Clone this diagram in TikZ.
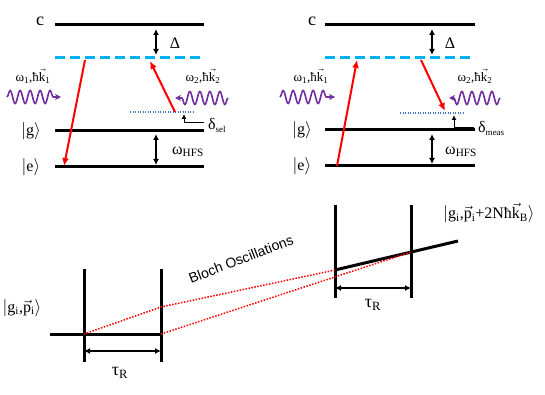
\documentclass[tikz,border=0pt]{standalone}
\usepackage{fontspec}
\setmainfont{Liberation Serif}
\newfontfamily\arialfont{Liberation Sans}
\usetikzlibrary{arrows.meta,decorations.pathmorphing}
\definecolor{myred}{RGB}{255,0,0}
\definecolor{mycyan}{RGB}{0,176,240}
\definecolor{mypurple}{RGB}{112,48,160}
\definecolor{myblue}{RGB}{68,114,196}
\newcommand\vk[1]{$\vec{\hbox{#1}}$}
\newcommand\myket[1]{$\Bigl|\hbox{#1}\Bigr\rangle$}
\newcommand\mysub[1]{{\fontsize{9}{10}\selectfont\raisebox{-3pt}{#1}}}
\tikzset{
  level/.style={line width=3pt},
  dlevel/.style={mycyan, line width=3pt, dash pattern=on 10pt off 5pt},
  dotlevel/.style={myblue, line width=1.2pt, dash pattern=on 1pt off 1.5pt},
  dbl/.style={{Latex[length=6pt,width=6pt]}-{Latex[length=6pt,width=6pt]}, line width=1.8pt},
  redarr/.style={myred, line width=2pt, -{Latex[length=8pt,width=7pt]}},
  smallarr/.style={line width=1pt, -{Latex[length=5pt,width=5pt]}},
  wave/.style={mypurple, line width=1.6pt, decorate,
    decoration={snake, amplitude=6.5pt, segment length=10pt, post length=4pt},
    -{Stealth[length=6pt,width=6pt]}},
  reddot/.style={myred, line width=1.5pt, dash pattern=on 1.5pt off 1.5pt},
  every node/.style={inner sep=1pt, font=\fontsize{16}{18}\selectfont},
  wlab/.style={font=\fontsize{13}{15}\selectfont},
}
\begin{document}
\begin{tikzpicture}[x=1pt,y=-1pt]
\useasboundingbox (0,0) rectangle (545,395);

% ---------- left panel ----------
\coordinate (Lc0) at (55,25); \coordinate (Lc1) at (204,25);
\coordinate (Lv0) at (55,58); \coordinate (Lv1) at (204,58);
\coordinate (Lg0) at (55,131); \coordinate (Lg1) at (204,131);
\coordinate (Le0) at (55,167); \coordinate (Le1) at (204,167);
\coordinate (Ld0) at (130,112); \coordinate (Ld1) at (195,112);
\draw[level] (Lc0) -- (Lc1);
\draw[dlevel] (Lv0) -- (Lv1);
\draw[level] (Lg0) -- (Lg1);
\draw[level] (Le0) -- (Le1);
\draw[dotlevel] (Ld0) -- (Ld1);
\node[font=\fontsize{18}{20}\selectfont] (Lclab) at (40,21) {c};
\node (Lglab) at (31,131) {\myket{g}};
\node (Lelab) at (31,167) {\myket{e}};
\coordinate (LDa) at (156,29); \coordinate (LDb) at (156,55);
\draw[dbl] (LDa) -- (LDb);
\node (LDlab) at (175,43) {Δ};
\coordinate (LHa) at (156,134); \coordinate (LHb) at (156,165);
\draw[dbl] (LHa) -- (LHb);
\node (LHlab) at (188,152) {ω\textsubscript{HFS}};
\coordinate (LR1a) at (85,60); \coordinate (LR1b) at (64,166);
\draw[redarr] (LR1a) -- (LR1b);
\coordinate (LR2a) at (175,112); \coordinate (LR2b) at (150,61);
\draw[redarr] (LR2a) -- (LR2b);
\coordinate (LSa) at (204,123); \coordinate (LSc) at (184,123); \coordinate (LSb) at (184,114);
\draw[smallarr] (LSa) -- (LSc) -- (LSb);
\node[anchor=west] (LSlab) at (207,125) {δ\mysub{sel}};
\coordinate (LW1a) at (7,97); \coordinate (LW1b) at (61,97);
\draw[wave] (LW1a) -- (LW1b);
\coordinate (LW2a) at (228,98); \coordinate (LW2b) at (175,98);
\draw[wave] (LW2a) -- (LW2b);
\node[wlab] (LW1lab) at (33,76) {ω\textsubscript{1},ħ\vk{k}\textsubscript{1}};
\node[wlab] (LW2lab) at (203,76) {ω\textsubscript{2},ħ\vk{k}\textsubscript{2}};

% ---------- right panel ----------
\coordinate (Rc0) at (325,25); \coordinate (Rc1) at (475,25);
\coordinate (Rv0) at (325,58); \coordinate (Rv1) at (475,58);
\coordinate (Rg0) at (325,130); \coordinate (Rg1) at (475,130);
\coordinate (Re0) at (325,166); \coordinate (Re1) at (475,166);
\coordinate (Rd0) at (400,113); \coordinate (Rd1) at (465,113);
\draw[level] (Rc0) -- (Rc1);
\draw[dlevel] (Rv0) -- (Rv1);
\draw[level] (Rg0) -- (Rg1);
\draw[level] (Re0) -- (Re1);
\draw[dotlevel] (Rd0) -- (Rd1);
\node[font=\fontsize{18}{20}\selectfont] (Rclab) at (312,21) {c};
\node (Rglab) at (302,130) {\myket{g}};
\node (Relab) at (302,166) {\myket{e}};
\coordinate (RDa) at (432,29); \coordinate (RDb) at (432,55);
\draw[dbl] (RDa) -- (RDb);
\node (RDlab) at (450,43) {Δ};
\coordinate (RHa) at (432,134); \coordinate (RHb) at (432,164);
\draw[dbl] (RHa) -- (RHb);
\node (RHlab) at (461,152) {ω\textsubscript{HFS}};
\coordinate (RR1a) at (337,166); \coordinate (RR1b) at (357,60);
\draw[redarr] (RR1a) -- (RR1b);
\coordinate (RR2a) at (421,60); \coordinate (RR2b) at (445,111);
\draw[redarr] (RR2a) -- (RR2b);
\coordinate (RSa) at (474,128); \coordinate (RSc) at (454,128); \coordinate (RSb) at (454,115);
\draw[smallarr] (RSa) -- (RSc) -- (RSb);
\node[anchor=west] (RSlab) at (477,128) {δ\mysub{meas}};
\coordinate (RW1a) at (280,97); \coordinate (RW1b) at (335,97);
\draw[wave] (RW1a) -- (RW1b);
\coordinate (RW2a) at (500,98); \coordinate (RW2b) at (449,98);
\draw[wave] (RW2a) -- (RW2b);
\node[wlab] (RW1lab) at (311,76) {ω\textsubscript{1},ħ\vk{k}\textsubscript{1}};
\node[wlab] (RW2lab) at (475,76) {ω\textsubscript{2},ħ\vk{k}\textsubscript{2}};

% ---------- bottom ----------
\coordinate (BL0) at (50,334); \coordinate (BL1) at (161,334);
\draw[level] (BL0) -- (BL1);
\coordinate (V1t) at (84,269); \coordinate (V1b) at (84,362);
\coordinate (V2t) at (161,269); \coordinate (V2b) at (161,362);
\draw[level] (V1t) -- (V1b);
\draw[level] (V2t) -- (V2b);
\coordinate (T1a) at (84,351); \coordinate (T1b) at (161,351);
\draw[dbl] (T1a) -- (T1b);
\node[font=\fontsize{18}{20}\selectfont] (tau1) at (120,373) {τ\textsubscript{R}};
\coordinate (V3t) at (335,205); \coordinate (V3b) at (335,298);
\coordinate (V4t) at (411,205); \coordinate (V4b) at (411,298);
\draw[level] (V3t) -- (V3b);
\draw[level] (V4t) -- (V4b);
\coordinate (R0) at (335,270); \coordinate (R1) at (458,241);
\draw[level] (R0) -- (R1);
\coordinate (T2a) at (335,288); \coordinate (T2b) at (411,288);
\draw[dbl] (T2a) -- (T2b);
\node[font=\fontsize{18}{20}\selectfont] (tau2) at (373,305) {τ\textsubscript{R}};
\coordinate (B1) at (84,334); \coordinate (B2) at (161,307);
\coordinate (B4) at (161,334); \coordinate (B5) at (411,252);
\draw[reddot] (B1) -- (B2) -- (R0);
\draw[reddot] (B4) -- (B5);
\node (ketL) at (22,308) {$\Bigl|\hbox{g\textsubscript{i},\vk{p}\textsubscript{i}}\Bigr\rangle$};
\node (ketR) at (489,213) {$\Bigl|\hbox{g\textsubscript{i},\vk{p}\textsubscript{i}+2Nħ\vk{k}\textsubscript{B}}\Bigr\rangle$};
\node[rotate=21, font={\arialfont\fontsize{14}{16}\selectfont}] (bloch) at (241,259) {Bloch Oscillations};
\end{tikzpicture}
\end{document}
